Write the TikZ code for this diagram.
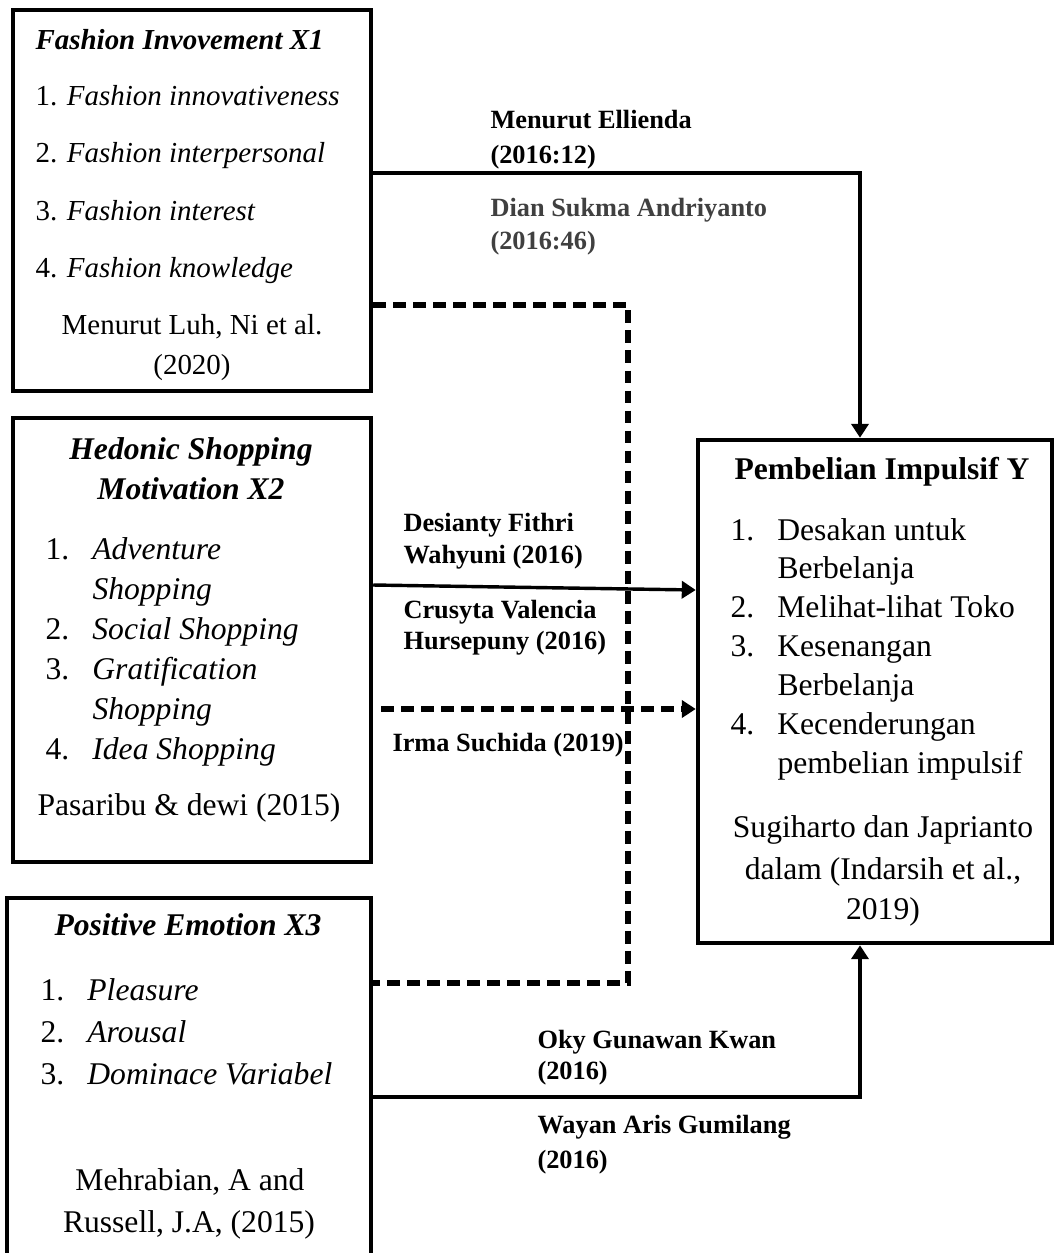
\documentclass[tikz,border=0pt]{standalone}
\usepackage{fontspec}
\setmainfont{Liberation Serif}
\usetikzlibrary{arrows.meta,positioning,fit}
\newcommand{\numitem}[2]{\makebox[17.8pt][l]{#1}#2}

\begin{document}
\begin{tikzpicture}[x=0.3797pt, y=-0.3797pt, box/.style={draw, line width=1.7pt, inner sep=0pt}, ln/.style={inner sep=0pt, text height=8.4pt, text depth=2.4pt, font=\fontsize{12}{14}\selectfont}, sm/.style={ln, font=\fontsize{11}{13}\selectfont}, lab/.style={inner sep=0pt, anchor=west, text height=7pt, text depth=2pt, font=\fontsize{10}{12}\selectfont\bfseries}, arr/.style={-{Triangle[length=5.3pt, width=6.5pt]}, line width=1.3pt}, dsh/.style={line width=2.1pt, dash pattern=on 4.9pt off 2.7pt}]
\path[clip] (0,0) rectangle (1060,1253);
% boxes
\node[box, fit={(13,10) (371,391)}] (x1) {};
\node[box, fit={(13,418) (371,862)}] (x2) {};
\node[box, fit={(7,898) (371,1300)}] (x3) {};
\node[box, fit={(698,440) (1052,943)}] (yb) {};
% X1
\node[sm, anchor=west, font=\fontsize{11}{13}\selectfont\bfseries\itshape] (x1t) at (35,42) {Fashion Invovement X1};
\node[sm, anchor=west] (x1a) at (35,98) {1. \textit{Fashion innovativeness}};
\node[sm, anchor=west] (x1b) at (35,155) {2. \textit{Fashion interpersonal}};
\node[sm, anchor=west] (x1c) at (35,213) {3. \textit{Fashion interest}};
\node[sm, anchor=west] (x1d) at (35,270) {4. \textit{Fashion knowledge}};
\node[sm] (x1s) at (192,327) {Menurut Luh, Ni et al.};
\node[sm] (x1y) at (192,367) {(2020)};
% X2
\node[ln, font=\fontsize{12}{14}\selectfont\bfseries\itshape] (x2t) at (191,452) {Hedonic Shopping};
\node[ln, font=\fontsize{12}{14}\selectfont\bfseries\itshape] (x2u) at (191,492) {Motivation X2};
\node[ln, anchor=west] (x2a) at (45,552) {\numitem{1.}{\textit{Adventure}}};
\node[ln, anchor=west] (x2a2) at (92,592) {\textit{Shopping}};
\node[ln, anchor=west] (x2b) at (45,632) {\numitem{2.}{\textit{Social Shopping}}};
\node[ln, anchor=west] (x2c) at (45,672) {\numitem{3.}{\textit{Gratification}}};
\node[ln, anchor=west] (x2c2) at (92,712) {\textit{Shopping}};
\node[ln, anchor=west] (x2d) at (45,752) {\numitem{4.}{\textit{Idea Shopping}}};
\node[ln] (x2s) at (189,808) {Pasaribu \& dewi (2015)};
% X3
\node[ln, font=\fontsize{12}{14}\selectfont\bfseries\itshape] (x3t) at (188,928) {Positive Emotion X3};
\node[ln, anchor=west] (x3a) at (40,993) {\numitem{1.}{\textit{Pleasure}}};
\node[ln, anchor=west] (x3b) at (40,1035) {\numitem{2.}{\textit{Arousal}}};
\node[ln, anchor=west] (x3c) at (40,1077) {\numitem{3.}{\textit{Dominace Variabel}}};
\node[ln] (x3s) at (190,1183) {Mehrabian, A and};
\node[ln] (x3y) at (189,1225) {Russell, J.A, (2015)};
% Y
\node[ln, font=\fontsize{12}{14}\selectfont\bfseries] (ybt) at (882,472) {Pembelian Impulsif Y};
\node[ln, anchor=west] (yba) at (730,533) {\numitem{1.}{Desakan untuk}};
\node[ln, anchor=west] (yba2) at (777,571) {Berbelanja};
\node[ln, anchor=west] (ybb) at (730,610) {\numitem{2.}{Melihat-lihat Toko}};
\node[ln, anchor=west] (ybc) at (730,649) {\numitem{3.}{Kesenangan}};
\node[ln, anchor=west] (ybc2) at (777,688) {Berbelanja};
\node[ln, anchor=west] (ybd) at (730,727) {\numitem{4.}{Kecenderungan}};
\node[ln, anchor=west] (ybd2) at (777,766) {pembelian impulsif};
\node[ln] (ybs) at (883,830) {Sugiharto dan Japrianto};
\node[ln] (ybs2) at (883,872) {dalam (Indarsih et al.,};
\node[ln] (ybs3) at (883,912) {2019)};
% labels
\node[lab] (l1a) at (490,122) {Menurut Ellienda};
\node[lab] (l1b) at (490,157) {(2016:12)};
\node[lab, text=black!75] (l2a) at (490,210) {Dian Sukma Andriyanto};
\node[lab, text=black!75] (l2b) at (490,243) {(2016:46)};
\node[lab] (l3a) at (403,525) {Desianty Fithri};
\node[lab] (l3b) at (403,557) {Wahyuni (2016)};
\node[lab] (l4a) at (403,612) {Crusyta Valencia};
\node[lab] (l4b) at (403,643) {Hursepuny (2016)};
\node[lab] (l5) at (392,745) {Irma Suchida (2019)};
\node[lab] (l6a) at (537,1042) {Oky Gunawan Kwan};
\node[lab] (l6b) at (537,1073) {(2016)};
\node[lab] (l7a) at (537,1127) {Wayan Aris Gumilang};
\node[lab] (l7b) at (537,1162) {(2016)};
% connectors
\coordinate (k1) at (860,173);
\coordinate (k2) at (628,305);
\coordinate (k3) at (628,983);
\coordinate (k4) at (860,1097);
\coordinate (a2) at (0,585);
\coordinate (b2) at (0,590);
\coordinate (a3) at (0,709);
\draw[arr] (x1.east |- k1) -- (k1) -- (yb.north -| k1);
\draw[dsh] (x1.east |- k2) -- (k2) -- (k3) -- (x3.east |- k3);
\draw[arr] (x2.east |- a2) -- (yb.west |- b2);
\draw[arr, dsh, shorten <=3pt] (x2.east |- a3) -- (yb.west |- a3);
\draw[arr] (x3.east |- k4) -- (k4) -- (yb.south -| k4);
\end{tikzpicture}
\end{document}
